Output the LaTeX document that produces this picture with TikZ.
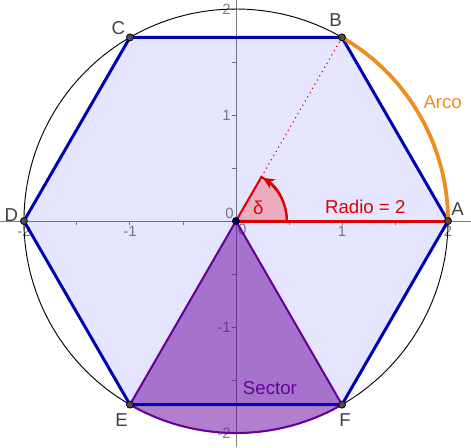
\documentclass[tikz,border=0pt]{standalone}
\usepackage{fontspec}
\setmainfont{Liberation Sans}
\usetikzlibrary{arrows.meta,positioning}
\definecolor{hexline}{RGB}{0,0,179}
\definecolor{sectcol}{RGB}{102,0,153}
\definecolor{arcorange}{RGB}{240,140,30}
\definecolor{angred}{RGB}{221,0,0}
\definecolor{axisgray}{RGB}{128,128,128}

\begin{document}
\begin{tikzpicture}[x=2cm,y=2cm]
\tikzset{
  pt/.style={circle,draw=black,fill=black!70,line width=0.4pt,minimum size=3.8pt,inner sep=0pt},
  ptlabel/.style={font=\fontsize{10}{12}\selectfont,text=black!75},
  ticklabel/.style={font=\fontsize{8}{10}\selectfont,text=axisgray,inner sep=1pt},
  axisline/.style={axisgray,line width=0.5pt},
  hexedge/.style={hexline,line width=1.6pt},
  sectedge/.style={sectcol,line width=1.1pt}
}
\useasboundingbox (-2.226,-2.132) rectangle (2.217,2.085);
% axes
\draw[axisline] (-2.226,0) -- (2.217,0);
\draw[axisline] (0,-2.132) -- (0,2.085);
\foreach \t in {-2,-1.5,...,2} {
  \draw[axisline] (\t,0) -- (\t,-0.04);
  \draw[axisline] (0,\t) -- (-0.04,\t);
}
\foreach \t in {-2,-1,1,2} {
  \node[ticklabel,below] at (\t,-0.03) {\t};
  \node[ticklabel,left] at (-0.03,\t) {\t};
}
\node[ticklabel,above left] at (0,0) {0};
\node[ticklabel,below right] at (0,-0.01) {0};
% circle
\draw[black,line width=0.5pt] (0,0) circle (2);
% points
\coordinate (O) at (0,0);
\coordinate (A) at (0:2);
\coordinate (B) at (60:2);
\coordinate (C) at (120:2);
\coordinate (D) at (180:2);
\coordinate (E) at (240:2);
\coordinate (F) at (300:2);
\coordinate (T) at (60:0.48);
% hexagon
\fill[blue,fill opacity=0.1] (A) -- (B) -- (C) -- (D) -- (E) -- (F) -- cycle;
% sector
\filldraw[sectedge,fill=sectcol,fill opacity=0.5] (O) -- (E) arc[start angle=240,end angle=300,radius=2] -- cycle;
\draw[hexedge,line join=round] (A) -- (B) -- (C) -- (D) -- (E) -- (F) -- cycle;
% arc AB
\draw[arcorange,line width=2pt] (A) arc[start angle=0,end angle=60,radius=2];
% angle
\filldraw[angred,line width=1.1pt,fill=red,fill opacity=0.25] (O) -- (0.48,0) arc[start angle=0,end angle=60,radius=0.48] -- cycle;
\draw[angred,line width=1.1pt,-{Stealth[length=2.2mm,width=2mm]}] (0.48,0) arc[start angle=0,end angle=58,radius=0.48];
\draw[angred,line width=0.6pt,dotted] (T) -- (B);
\draw[angred,line width=1.6pt] (O) -- (A);
% points on top
\node[pt] (n_A) at (A) {};
\node[pt] (n_B) at (B) {};
\node[pt] (n_C) at (C) {};
\node[pt] (n_D) at (D) {};
\node[pt] (n_E) at (E) {};
\node[pt] (n_F) at (F) {};
\node[pt,fill=hexline!60!black] (n_O) at (O) {};
% labels
\node[ptlabel] at (2.09,0.11) {A};
\node[ptlabel] at (0.94,1.90) {B};
\node[ptlabel] at (-1.11,1.82) {C};
\node[ptlabel] at (-2.12,0.06) {D};
\node[ptlabel] at (-1.08,-1.88) {E};
\node[ptlabel] at (1.03,-1.88) {F};
\node[ptlabel,text=angred] at (1.22,0.13) {Radio = 2};
\node[ptlabel,text=arcorange] at (1.95,1.12) {Arco};
\node[ptlabel,text=angred] at (0.21,0.12) {δ};
\node[ptlabel,text=sectcol] at (0.32,-1.58) {Sector};
\end{tikzpicture}
\end{document}
